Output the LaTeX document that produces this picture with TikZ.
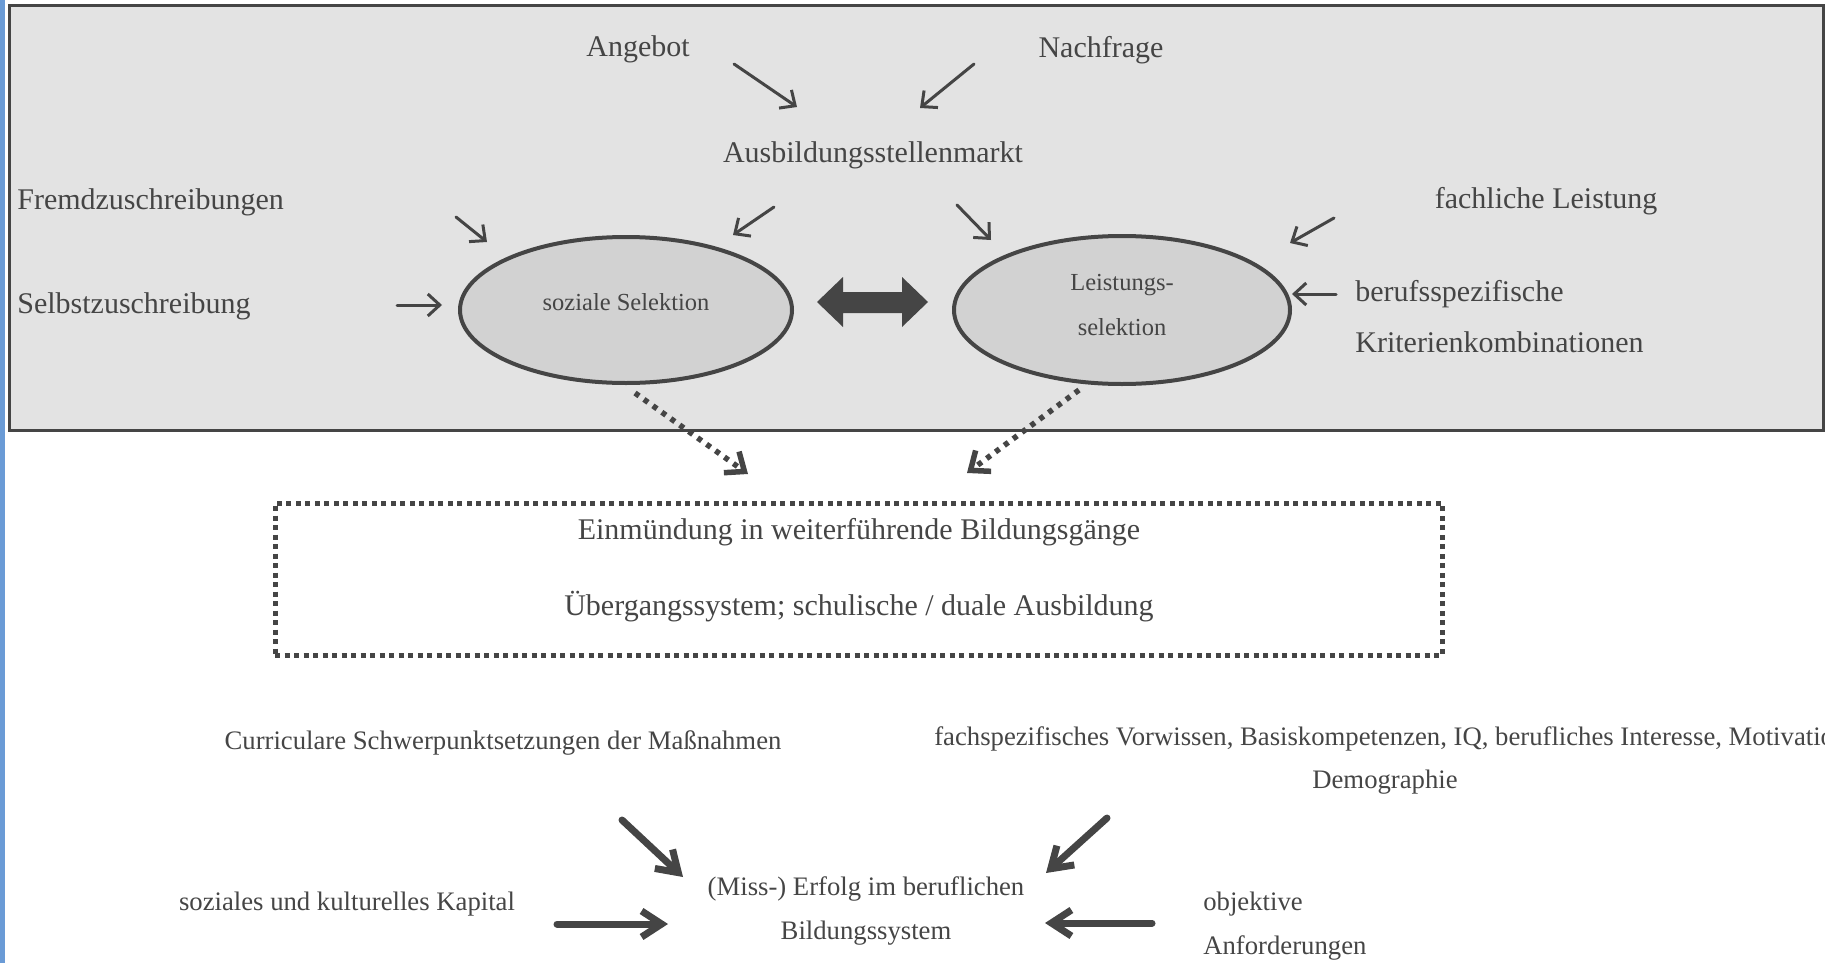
\documentclass[tikz,border=0pt]{standalone}
\usepackage{fontspec}
\setmainfont{Liberation Serif}
\usetikzlibrary{shapes.geometric,arrows.meta}
\definecolor{ink}{HTML}{454545}
\definecolor{boxgray}{HTML}{E3E3E3}
\definecolor{ellgray}{HTML}{D2D2D2}
\definecolor{edgeblue}{HTML}{6A9BD6}

\begin{document}
\begin{tikzpicture}[x=1pt,y=-1pt,
  every node/.style={text=ink, outer sep=0pt},
  bigtext/.style={font=\fontsize{30}{36}\selectfont},
  lowtext/.style={font=\fontsize{26.7}{32}\selectfont},
  seltext/.style={font=\fontsize{24.5}{45}\selectfont, align=center},
  selnode/.style={ellipse, draw=ink, line width=4pt, fill=ellgray, minimum width=332pt, minimum height=146pt, inner sep=0pt},
  feedarr/.style={draw=ink, line width=3pt, line cap=round, -{Straight Barb[length=12pt,width=22pt]}},
  dotarr/.style={draw=ink, line width=5.5pt, dash pattern=on 5pt off 6pt, -{Straight Barb[length=16pt,width=26pt]}},
  fatarr/.style={draw=ink, line width=7pt, line cap=round, -{Straight Barb[length=20pt,width=26pt]}}]
\useasboundingbox (0,0) rectangle (1825,963);
\fill[edgeblue] (0,0) rectangle (5,963);
\draw[draw=ink, line width=3pt, fill=boxgray] (9,6) rectangle (1823,430);

\node[bigtext] (angebot) at (638,49) {Angebot};
\node[bigtext] (nachfrage) at (1101,50) {Nachfrage};
\node[bigtext] (markt) at (873,155) {Ausbildungsstellenmarkt};
\node[bigtext, anchor=west] (fremd) at (14,202) {Fremdzuschreibungen};
\node[bigtext, anchor=west] (selbst) at (14,306) {Selbstzuschreibung};
\node[bigtext] (fachl) at (1546,201) {fachliche Leistung};
\node[bigtext, anchor=west, align=left, font=\fontsize{30}{51}\selectfont] (berufs) at (1352,317) {berufsspezifische\\Kriterienkombinationen};

\node[selnode] (sozsel) at (626,310) {};
\node[selnode, minimum width=336pt, minimum height=148pt] (leistsel) at (1122,310) {};
\node[seltext] (soztxt) at (626,302) {soziale Selektion};
\node[seltext] (leisttxt) at (1122,305) {Leistungs-\\selektion};
\fill[ink] (817,302) -- (843,277) -- (843,292) -- (902,292) -- (902,277) -- (928,302)
  -- (902,327) -- (902,313) -- (843,313) -- (843,327) -- cycle;

\node[draw=ink, line width=5pt, dash pattern=on 5pt off 4.5pt, minimum width=1167pt, minimum height=152pt] (einbox) at (858.5,579) {};
\node[bigtext] (einm) at (859,532) {Einmündung in weiterführende Bildungsgänge};
\node[bigtext] (uebergang) at (859,607) {Übergangssystem; schulische / duale Ausbildung};

\node[lowtext] (curric) at (503,743) {Curriculare Schwerpunktsetzungen der Maßnahmen};
\node[lowtext, anchor=west] (fachsp) at (931,739) {fachspezifisches Vorwissen, Basiskompetenzen, IQ, berufliches Interesse, Motivation};
\node[lowtext] (demo) at (1385,782) {Demographie};
\node[lowtext] (kapital) at (347,904) {soziales und kulturelles Kapital};
\node[lowtext, align=center, font=\fontsize{26.7}{44}\selectfont] (erfolg) at (866,911) {(Miss-) Erfolg im beruflichen\\Bildungssystem};
\node[lowtext, anchor=west, align=left, font=\fontsize{26.7}{44}\selectfont] (objektiv) at (1200,926) {objektive\\Anforderungen};

\coordinate (angS) at (734,64);   \coordinate (angE) at (797,107);
\coordinate (nachS) at (974,64);  \coordinate (nachE) at (920,108);
\coordinate (fremdS) at (456,217); \coordinate (fremdE) at (487,242);
\coordinate (selbstS) at (397,305); \coordinate (selbstE) at (442,305);
\coordinate (marktL) at (774,207); \coordinate (marktLE) at (733,235);
\coordinate (marktR) at (957,205); \coordinate (marktRE) at (991,240);
\coordinate (fachlS) at (1334,218); \coordinate (fachlE) at (1290,243);
\coordinate (berufsS) at (1336,294); \coordinate (berufsE) at (1292,294);
\coordinate (dotL) at (635,393); \coordinate (dotLE) at (748,474);
\coordinate (dotR) at (1079,390); \coordinate (dotRE) at (967,473);
\coordinate (curS) at (622,820); \coordinate (curE) at (683,877);
\coordinate (fachS) at (1107,818); \coordinate (fachE) at (1046,873);
\coordinate (kapS) at (557,924); \coordinate (kapE) at (668,924);
\coordinate (objS) at (1152,923); \coordinate (objE) at (1045,923);

\draw[feedarr] (angS) -- (angE);
\draw[feedarr] (nachS) -- (nachE);
\draw[feedarr] (fremdS) -- (fremdE);
\draw[feedarr] (selbstS) -- (selbstE);
\draw[feedarr] (marktL) -- (marktLE);
\draw[feedarr] (marktR) -- (marktRE);
\draw[feedarr] (fachlS) -- (fachlE);
\draw[feedarr] (berufsS) -- (berufsE);

\draw[dotarr] (dotL) -- (dotLE);
\draw[dotarr] (dotR) -- (dotRE);

\draw[fatarr] (curS) -- (curE);
\draw[fatarr] (fachS) -- (fachE);
\draw[fatarr] (kapS) -- (kapE);
\draw[fatarr] (objS) -- (objE);
\end{tikzpicture}
\end{document}
